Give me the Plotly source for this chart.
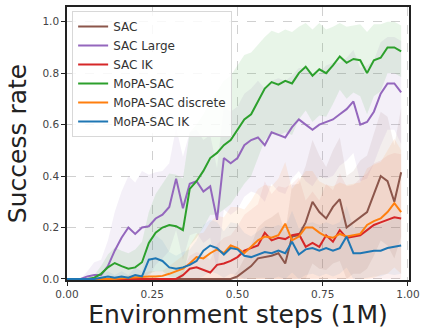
import plotly.graph_objects as go

STEPS = [0.00, 0.02, 0.04, 0.06, 0.08, 0.10, 0.12, 0.14, 0.16, 0.18,
         0.20, 0.22, 0.24, 0.26, 0.28, 0.30, 0.32, 0.34, 0.36, 0.38,
         0.40, 0.42, 0.44, 0.46, 0.48, 0.50, 0.52, 0.54, 0.56, 0.58,
         0.60, 0.62, 0.64, 0.66, 0.68, 0.70, 0.72, 0.74, 0.76, 0.78,
         0.80, 0.82, 0.84, 0.86, 0.88, 0.90, 0.92, 0.94, 0.96, 0.98]

SERIES_NAMES = ["SAC", "SAC Large", "SAC IK", "MoPA-SAC", "MoPA-SAC discrete", "MoPA-SAC IK"]
SERIES_COLORS = ["#8c564b", "#9467bd", "#d62728", "#2ca02c", "#ff7f0e", "#1f77b4"]
SERIES_FILLS = ["rgba(140,86,75,0.10)", "rgba(148,103,189,0.10)", "rgba(214,39,40,0.07)",
                "rgba(44,160,44,0.11)", "rgba(255,127,14,0.09)", "rgba(31,119,180,0.07)"]

sac = [0, 0, 0, 0, 0, 0, 0, 0, 0, 0,
       0, 0, 0, 0, 0, 0, 0, 0, 0, 0,
       0, 0, 0, 0, 0, 0.01, 0.03, 0.05, 0.08, 0.085,
       0.09, 0.10, 0.06, 0.165, 0.17, 0.22, 0.30, 0.26, 0.235, 0.28,
       0.31, 0.20, 0.22, 0.24, 0.26, 0.33, 0.40, 0.38, 0.30, 0.415]
sac_std = [0, 0, 0, 0, 0, 0, 0, 0, 0, 0,
           0, 0, 0, 0, 0, 0, 0, 0, 0, 0,
           0, 0, 0, 0, 0, 0.02, 0.05, 0.08, 0.12, 0.14,
           0.15, 0.16, 0.12, 0.2, 0.2, 0.22, 0.24, 0.22, 0.2, 0.22,
           0.24, 0.2, 0.2, 0.22, 0.22, 0.24, 0.25, 0.25, 0.22, 0.25]

sac_large = [0, 0, 0, 0.01, 0.015, 0.015, 0.05, 0.11, 0.16, 0.20,
             0.175, 0.20, 0.205, 0.235, 0.25, 0.28, 0.39, 0.275, 0.37, 0.38,
             0.34, 0.36, 0.23, 0.47, 0.45, 0.47, 0.52, 0.54, 0.55, 0.52,
             0.57, 0.56, 0.55, 0.59, 0.62, 0.60, 0.58, 0.60, 0.61, 0.62,
             0.64, 0.66, 0.69, 0.60, 0.61, 0.65, 0.72, 0.76, 0.76, 0.725]
sac_large_std = [0, 0, 0, 0.02, 0.05, 0.06, 0.1, 0.15, 0.18, 0.2,
                 0.2, 0.22, 0.2, 0.18, 0.17, 0.17, 0.2, 0.2, 0.2, 0.2,
                 0.2, 0.2, 0.2, 0.2, 0.2, 0.2, 0.2, 0.2, 0.22, 0.22,
                 0.2, 0.22, 0.22, 0.2, 0.2, 0.22, 0.22, 0.2, 0.22, 0.22,
                 0.2, 0.2, 0.2, 0.22, 0.22, 0.2, 0.2, 0.18, 0.18, 0.2]

sac_ik = [0, 0, 0, 0, 0, 0, 0, 0, 0, 0,
          0, 0, 0, 0, 0, 0, 0, 0.015, 0.04, 0.045,
          0.035, 0.025, 0.055, 0.06, 0.07, 0.085, 0.11, 0.12, 0.13, 0.18,
          0.15, 0.16, 0.155, 0.17, 0.175, 0.125, 0.14, 0.125, 0.17, 0.145,
          0.19, 0.16, 0.165, 0.17, 0.19, 0.21, 0.22, 0.23, 0.24, 0.235]
sac_ik_std = [0, 0, 0, 0, 0, 0, 0, 0, 0, 0,
              0, 0, 0, 0, 0, 0, 0, 0.02, 0.05, 0.06,
              0.06, 0.05, 0.08, 0.1, 0.1, 0.12, 0.14, 0.15, 0.16, 0.2,
              0.18, 0.2, 0.2, 0.2, 0.22, 0.18, 0.2, 0.18, 0.2, 0.2,
              0.22, 0.2, 0.2, 0.22, 0.22, 0.24, 0.24, 0.25, 0.25, 0.25]

mopa_sac = [0, 0, 0, 0, 0.005, 0.02, 0.045, 0.062, 0.05, 0.04,
            0.045, 0.065, 0.14, 0.18, 0.20, 0.21, 0.205, 0.19, 0.35, 0.38,
            0.42, 0.47, 0.49, 0.52, 0.54, 0.58, 0.62, 0.64, 0.69, 0.74,
            0.765, 0.755, 0.77, 0.76, 0.80, 0.825, 0.79, 0.815, 0.80, 0.83,
            0.865, 0.84, 0.855, 0.85, 0.80, 0.85, 0.86, 0.90, 0.90, 0.885]
mopa_sac_std = [0, 0, 0, 0, 0.01, 0.03, 0.05, 0.06, 0.06, 0.06,
                0.07, 0.08, 0.12, 0.15, 0.17, 0.2, 0.2, 0.2, 0.22, 0.22,
                0.22, 0.22, 0.24, 0.25, 0.25, 0.25, 0.25, 0.24, 0.22, 0.2,
                0.2, 0.2, 0.2, 0.2, 0.18, 0.17, 0.18, 0.18, 0.17, 0.15,
                0.13, 0.14, 0.13, 0.14, 0.16, 0.14, 0.13, 0.1, 0.1, 0.1]

mopa_sac_discrete = [0, 0, 0, 0, 0, 0, 0, 0, 0.003, 0.005,
                     0.005, 0.008, 0.01, 0.01, 0.012, 0.02, 0.03, 0.04, 0.06, 0.085,
                     0.08, 0.10, 0.115, 0.10, 0.13, 0.12, 0.10, 0.125, 0.15, 0.165,
                     0.16, 0.17, 0.215, 0.15, 0.165, 0.20, 0.20, 0.18, 0.165, 0.16,
                     0.175, 0.165, 0.17, 0.175, 0.21, 0.225, 0.235, 0.26, 0.295, 0.26]
mopa_sac_discrete_std = [0, 0, 0, 0, 0, 0, 0, 0, 0.005, 0.01,
                         0.01, 0.01, 0.02, 0.02, 0.02, 0.03, 0.04, 0.05, 0.07, 0.09,
                         0.1, 0.12, 0.13, 0.14, 0.15, 0.16, 0.17, 0.18, 0.2, 0.2,
                         0.2, 0.22, 0.24, 0.2, 0.22, 0.22, 0.22, 0.2, 0.2, 0.2,
                         0.2, 0.2, 0.2, 0.2, 0.22, 0.22, 0.22, 0.24, 0.25, 0.24]

mopa_sac_ik = [0, 0, 0, 0, 0, 0.005, 0.01, 0.005, 0.01, 0.005,
               0.015, 0.01, 0.075, 0.08, 0.07, 0.045, 0.04, 0.045, 0.055, 0.07,
               0.11, 0.13, 0.12, 0.095, 0.12, 0.115, 0.09, 0.085, 0.095, 0.105,
               0.10, 0.11, 0.10, 0.145, 0.095, 0.115, 0.12, 0.11, 0.12, 0.11,
               0.12, 0.165, 0.10, 0.10, 0.105, 0.11, 0.11, 0.12, 0.125, 0.13]
mopa_sac_ik_std = [0, 0, 0, 0, 0, 0.01, 0.02, 0.01, 0.02, 0.01,
                   0.03, 0.02, 0.08, 0.09, 0.08, 0.06, 0.05, 0.06, 0.06, 0.08,
                   0.1, 0.1, 0.1, 0.09, 0.1, 0.1, 0.09, 0.08, 0.09, 0.1,
                   0.1, 0.1, 0.1, 0.12, 0.1, 0.1, 0.1, 0.1, 0.1, 0.1,
                   0.1, 0.12, 0.1, 0.1, 0.1, 0.1, 0.1, 0.1, 0.11, 0.11]

MEANS = [sac, sac_large, sac_ik, mopa_sac, mopa_sac_discrete, mopa_sac_ik]
STDS = [sac_std, sac_large_std, sac_ik_std, mopa_sac_std, mopa_sac_discrete_std, mopa_sac_ik_std]

X_TICKS = [0.0, 0.25, 0.5, 0.75, 1.0]
X_TICK_LABELS = ["0.00", "0.25", "0.50", "0.75", "1.00"]
Y_TICKS = [0.0, 0.2, 0.4, 0.6, 0.8, 1.0]
Y_TICK_LABELS = ["0.0", "0.2", "0.4", "0.6", "0.8", "1.0"]

fig = go.Figure()

# shaded bands
for mean, std, fill in zip(MEANS, STDS, SERIES_FILLS):
    upper = [min(1.0, m + s) for m, s in zip(mean, std)]
    lower = [max(0.0, m - s) for m, s in zip(mean, std)]
    fig.add_trace(go.Scatter(
        x=STEPS + STEPS[::-1], y=upper + lower[::-1],
        fill="toself", fillcolor=fill, line=dict(width=0),
        mode="lines", hoverinfo="skip", showlegend=False))

# mean lines
for name, mean, color in zip(SERIES_NAMES, MEANS, SERIES_COLORS):
    fig.add_trace(go.Scatter(
        x=STEPS, y=mean, mode="lines", name=name,
        line=dict(color=color, width=2)))

font_family = "DejaVu Sans"
fig.update_layout(
    width=423, height=334,
    margin=dict(l=67, r=14, t=7, b=54, autoexpand=False),
    paper_bgcolor="white", plot_bgcolor="white",
    font=dict(family=font_family, color="#222"),
    showlegend=True,
    legend=dict(
        x=0.015, y=0.985, xanchor="left", yanchor="top",
        bgcolor="rgba(255,255,255,0.85)", bordercolor="#d8d8d8", borderwidth=1,
        font=dict(size=12, color="#333", family=font_family),
        itemwidth=30, tracegroupgap=0,
    ),
)
fig.update_xaxes(
    range=[0, 1.003], tickvals=X_TICKS, ticktext=X_TICK_LABELS,
    showline=True, linecolor="#222", linewidth=1.6, mirror=True,
    ticks="outside", ticklen=4, tickcolor="#222", tickwidth=1,
    tickfont=dict(size=10.5, color="#444"),
    showgrid=True, gridcolor="#d0d0d0", griddash="dash", gridwidth=1,
    zeroline=False, automargin=False,
    title=dict(text="Environment steps (1M)", font=dict(size=25, color="#222"), standoff=5),
)
fig.update_yaxes(
    range=[-0.004, 1.057], tickvals=Y_TICKS, ticktext=Y_TICK_LABELS,
    showline=True, linecolor="#222", linewidth=1.6, mirror=True,
    ticks="outside", ticklen=4, tickcolor="#222", tickwidth=1,
    tickfont=dict(size=10.5, color="#444"),
    showgrid=True, gridcolor="#d0d0d0", griddash="dash", gridwidth=1,
    zeroline=False, automargin=False,
    title=dict(text="Success rate", font=dict(size=25, color="#222"), standoff=9),
)

fig.write_html("out.html")
